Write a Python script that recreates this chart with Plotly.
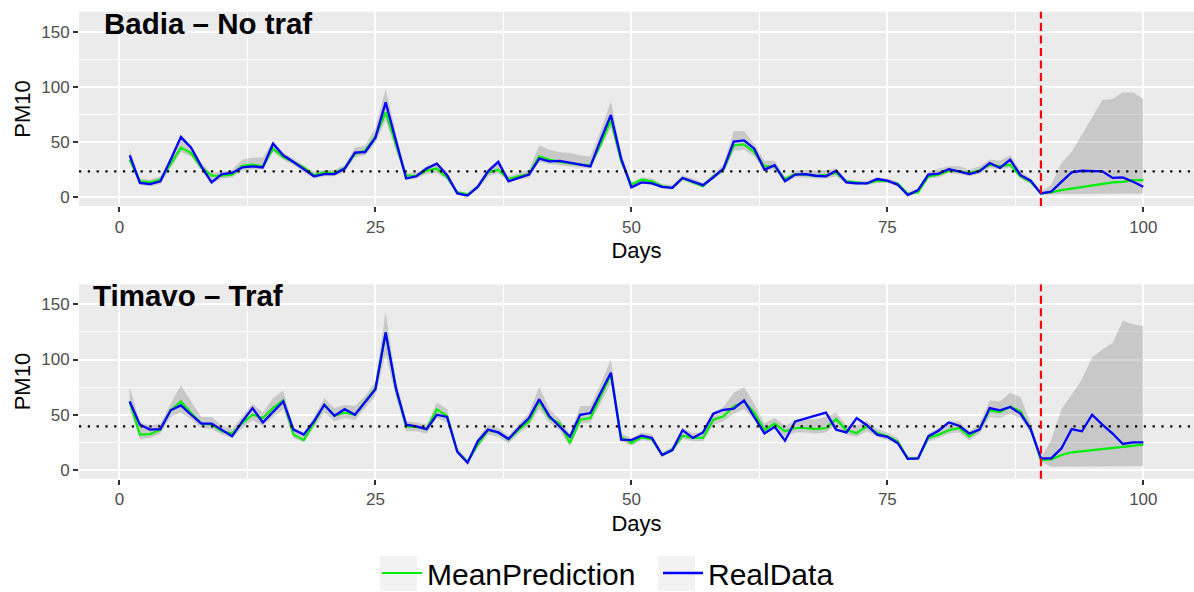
import plotly.graph_objects as go

# ---------------------------------------------------------------
# PM10 daily series: observed data, mean prediction and its band
# ---------------------------------------------------------------
days = list(range(1, 101))

badia_real = [38, 13, 12, 14.5, 34, 54.5, 45, 28, 13.5, 21,
              22, 27, 28, 27, 48.5, 38, 32, 25.5, 19, 21,
              21, 26, 40.5, 41, 54, 86, 52, 17, 19, 26,
              30.5, 20, 3.5, 1.5, 9.5, 23.5, 32, 14.5, 17.5, 20.5,
              35, 32.5, 33, 31.5, 30, 28, 52, 74.5, 35, 9,
              13.5, 12.5, 9.5, 8.5, 17.5, 14.5, 11, 18, 26, 50.5,
              51.5, 44, 25, 29, 14.5, 20.5, 21, 19.5, 19, 24,
              13.5, 12.5, 12.5, 16.5, 15, 11.5, 2, 6.5, 20.5, 21.5,
              25.5, 23.5, 21, 23.5, 31, 26.5, 34, 20, 15, 3.5,
              5, 14, 22.5, 24, 23.5, 23.5, 17.5, 18, 14, 9.5]

badia_mean = [34, 14.5, 13.5, 16, 30, 45, 40, 27, 19.5, 19.5,
              20.5, 28.5, 29.5, 28, 44, 36.5, 32, 27, 20, 22.5,
              22, 26.5, 39, 42.5, 55, 77, 48, 19.5, 19.5, 24,
              26, 18, 4.5, 2.5, 9.5, 22.5, 25, 16.5, 19, 21,
              37, 34, 32, 30.5, 29.5, 29, 48, 70, 33, 11.5,
              16, 14.5, 10, 8.5, 17.5, 13.5, 10, 19, 25, 47,
              48, 41, 28, 28, 16.5, 21, 20.5, 19.5, 20, 22,
              14.5, 13.5, 12.5, 15, 14.5, 12.5, 3, 4.5, 19, 20.5,
              24, 23.5, 22, 24.5, 29.5, 28, 29.5, 19, 14, 3.5,
              4.5, 6.5, 8, 9.5, 11, 12, 13.5, 14, 15.5, 15.5]

badia_lower = [31, 11, 10, 12, 27, 41, 37, 24, 12, 17,
               18, 24, 25, 25, 41, 34, 29, 23, 17, 19,
               19, 23, 36, 38, 49, 70, 42, 16, 17, 21,
               22, 16, 2.5, 1, 7, 19, 22, 14, 16, 18,
               32, 30, 29, 28, 27, 26, 44, 63, 30, 9,
               13, 12, 8, 7, 15, 12, 9, 16, 23, 42,
               43, 37, 24, 25, 13, 18, 18, 17, 17, 19,
               12, 11, 11, 13, 13, 10, 1.5, 3.5, 17, 18,
               22, 21, 19, 21, 27, 25, 27, 17, 12, 2.5,
               2.5, 3, 3, 3, 3, 3, 3, 3.5, 3.5, 3.5]

badia_upper = [44, 17, 16, 19, 36, 57, 47, 31, 22, 23,
               25, 34, 36, 36, 51, 40, 35, 29, 23, 25,
               25, 29, 45, 47, 63, 98, 58, 22, 22, 28,
               32, 23, 6, 4, 12, 26, 34, 19, 22, 25,
               47, 43, 41, 40, 38, 37, 60, 87, 40, 13,
               18, 17, 12, 11, 20, 17, 13, 21, 30, 60,
               60, 48, 33, 33, 18, 24, 25, 24, 25, 26,
               16, 15, 15, 18, 17, 14, 4.5, 8, 23, 26,
               28, 28, 25, 28, 34, 33, 38, 24, 17, 5,
               11, 31, 41, 57, 72, 88, 89, 95, 95, 89]

timavo_real = [62, 41, 36.5, 37, 54, 58.5, 50, 42, 42, 36.5,
               30.5, 44, 56, 43, 52.5, 62, 36.5, 32, 44, 59,
               49, 55, 50, 61, 73, 124.5, 74, 41, 39.5, 37,
               50, 48, 16.5, 6.5, 26, 36.5, 34, 28, 38, 47,
               64, 48.5, 39.5, 30, 50, 51.5, 70, 88, 27.5, 27,
               31, 29, 13.5, 18, 36, 29, 34, 51, 54.5, 55.5,
               63, 48, 33, 39, 26.5, 44, 46.5, 49, 52, 36.5,
               34, 47, 40.5, 32, 30, 24.5, 10, 10.5, 30.5, 35.5,
               43, 40, 33, 36.5, 56, 54, 57, 51, 37, 10.5,
               10.5, 19.5, 37, 35, 50, 41, 33, 23.5, 25, 25]

timavo_mean = [62, 32, 32.5, 36.5, 54, 62, 51.5, 42, 41, 35,
               33, 42.5, 50, 47, 56, 63, 32, 27, 42.5, 59,
               49, 52, 50, 61.5, 74, 124.5, 74, 39.5, 39, 37,
               55, 49, 16.5, 7.5, 23, 36, 34, 27.5, 36.5, 44,
               62, 47, 42, 24.5, 45.5, 47, 67, 86.5, 30, 24.5,
               29.5, 28, 13.5, 18.5, 31, 29, 29, 45.5, 48.5, 57.5,
               62, 52, 36, 42, 35, 38, 38, 37, 38, 46,
               36, 33.5, 39.5, 33.5, 30.5, 26, 10.5, 10.5, 29, 32,
               36, 38, 30.5, 37, 54, 52.5, 57.5, 53, 37, 9,
               9.5, 13.5, 16, 17, 17.5, 19, 20, 21, 22, 23]

timavo_lower = [55, 28, 29, 33, 48, 52, 46, 38, 37, 32,
                29, 38, 45, 40, 48, 55, 29, 25, 38, 52,
                44, 47, 45, 56, 67, 105, 66, 35, 35, 33,
                47, 43, 14, 5.5, 20, 32, 30, 24, 33, 40,
                55, 43, 36, 21, 42, 43, 60, 78, 26, 22,
                27, 26, 12, 16, 28, 26, 26, 41, 44, 51,
                55, 46, 32, 37, 30, 34, 34, 33, 34, 41,
                32, 30, 35, 30, 27, 23, 9, 9, 26, 29,
                33, 34, 27, 33, 48, 47, 51, 47, 33, 8,
                3, 3, 3, 3, 3, 3.5, 3.5, 3.5, 3.5, 3.5]

timavo_upper = [75, 43, 40, 42, 60, 77, 62, 48, 48, 40,
                37, 48, 60, 52, 65, 72, 38, 34, 48, 65,
                56, 59, 58, 67, 80, 143, 82, 44, 43, 41,
                61, 55, 20, 9, 29, 41, 38, 31, 42, 52,
                75, 55, 46, 32, 58, 58, 78, 100, 33, 29,
                34, 32, 16, 21, 38, 33, 35, 52, 57, 70,
                75, 60, 42, 47, 40, 44, 46, 46, 48, 52,
                40, 40, 44, 37, 34, 29, 12, 12, 33, 38,
                44, 44, 35, 42, 63, 62, 70, 66, 43, 11,
                27, 55, 68, 82, 102, 109, 115, 135, 132, 130]

panel_titles = ["Badia \u2013 No traf", "Timavo \u2013 Traf"]
reference_levels = [23.4, 39.5]     # dotted horizontal reference per station
forecast_start = 90                  # first day of the forecast window

x_ticks = [0, 25, 50, 75, 100]
y_ticks = [0, 50, 100, 150]

# ---------------------------------------------------------------
W, H = 1194, 592
FONT = "Liberation Sans, Arial, Helvetica, sans-serif"
PANEL_BG = "#EBEBEB"
MEAN_COLOR = "#00EE00"
REAL_COLOR = "#0000FF"
BAND_COLOR = "rgba(120,120,120,0.30)"
KEY_BG = "#F2F2F2"


def fx(px):
    return px / W


def fy(px):
    return 1 - px / H


panels = [
    dict(real=badia_real, mean=badia_mean, lower=badia_lower, upper=badia_upper,
         top=11.8, bottom=206.1, title_y=23.5, title_x=101.5),
    dict(real=timavo_real, mean=timavo_mean, lower=timavo_lower, upper=timavo_upper,
         top=284.4, bottom=478.8, title_y=295.5, title_x=90.5),
]

fig = go.Figure()

for i, p in enumerate(panels):
    ax = "" if i == 0 else str(i + 1)
    xref, yref = "x" + ax, "y" + ax
    first = i == 0

    # uncertainty band
    fig.add_trace(go.Scatter(
        x=days + days[::-1],
        y=p["upper"] + p["lower"][::-1],
        fill="toself", fillcolor=BAND_COLOR,
        line=dict(width=0), mode="lines",
        hoverinfo="skip", showlegend=False,
        xaxis=xref, yaxis=yref,
    ))
    fig.add_trace(go.Scatter(
        x=days, y=p["mean"], mode="lines",
        line=dict(color=MEAN_COLOR, width=2.2),
        name="MeanPrediction", legendgroup="mean", showlegend=first,
        xaxis=xref, yaxis=yref,
    ))
    fig.add_trace(go.Scatter(
        x=days, y=p["real"], mode="lines",
        line=dict(color=REAL_COLOR, width=2.3),
        name="RealData", legendgroup="real", showlegend=first,
        xaxis=xref, yaxis=yref,
    ))

    # reference level and forecast start
    fig.add_shape(type="line", xref=xref + " domain", yref=yref,
                  x0=0, x1=1, y0=reference_levels[i], y1=reference_levels[i],
                  line=dict(color="black", width=2.2, dash="2.2px,6.6px"))
    fig.add_shape(type="line", xref=xref, yref=yref + " domain",
                  x0=forecast_start, x1=forecast_start, y0=0, y1=1,
                  line=dict(color="#FF0000", width=2.2, dash="8px,4.5px"))

    fig.add_annotation(text="<b>%s</b>" % panel_titles[i],
                       xref="paper", yref="paper",
                       x=fx(p["title_x"]), y=fy(p["title_y"]),
                       xanchor="left", yanchor="middle", showarrow=False,
                       font=dict(size=29.5, color="black", family=FONT))

    axis_common = dict(
        showline=False, zeroline=False,
        gridcolor="white", gridwidth=1.6,
        ticks="outside", ticklen=5, tickwidth=1.5, tickcolor="#333333",
        tickfont=dict(size=17, color="#4D4D4D", family=FONT),
        automargin=False,
    )
    fig.update_layout({
        "xaxis" + ax: dict(
            axis_common,
            domain=[fx(79), 1], range=[-3.95, 104.95],
            tickvals=x_ticks, ticktext=[str(v) for v in x_ticks],
            minor=dict(tickvals=[12.5, 37.5, 62.5, 87.5], showgrid=True,
                       gridcolor="white", gridwidth=0.8),
            title=dict(text="Days", font=dict(size=22, color="black", family=FONT),
                       standoff=7),
            anchor=yref,
        ),
        "yaxis" + ax: dict(
            axis_common,
            domain=[fy(p["bottom"]), fy(p["top"])], range=[-8, 168],
            tickvals=y_ticks, ticktext=[str(v) for v in y_ticks],
            minor=dict(tickvals=[25, 75, 125], showgrid=True,
                       gridcolor="white", gridwidth=0.8),
            title=dict(text="PM10", font=dict(size=22, color="black", family=FONT),
                       standoff=4),
            anchor=xref,
        ),
    })

# light key backgrounds behind the legend samples
for left in (380, 658):
    fig.add_shape(type="rect", xref="paper", yref="paper", layer="below",
                  x0=fx(left), x1=fx(left + 37), y0=fy(591), y1=fy(556),
                  line=dict(width=0), fillcolor=KEY_BG)

fig.update_layout(
    width=W, height=H,
    margin=dict(l=0, r=0, t=0, b=0, autoexpand=False),
    paper_bgcolor="white", plot_bgcolor=PANEL_BG,
    font=dict(family=FONT, color="black"),
    showlegend=True,
    legend=dict(orientation="h", xref="container", yref="container",
                x=fx(377), y=fy(573),
                xanchor="left", yanchor="middle",
                font=dict(size=30, color="black", family=FONT),
                itemwidth=40, entrywidth=226, entrywidthmode="pixels",
                bgcolor="rgba(0,0,0,0)", tracegroupgap=0),
)

fig.write_html("out.html")
